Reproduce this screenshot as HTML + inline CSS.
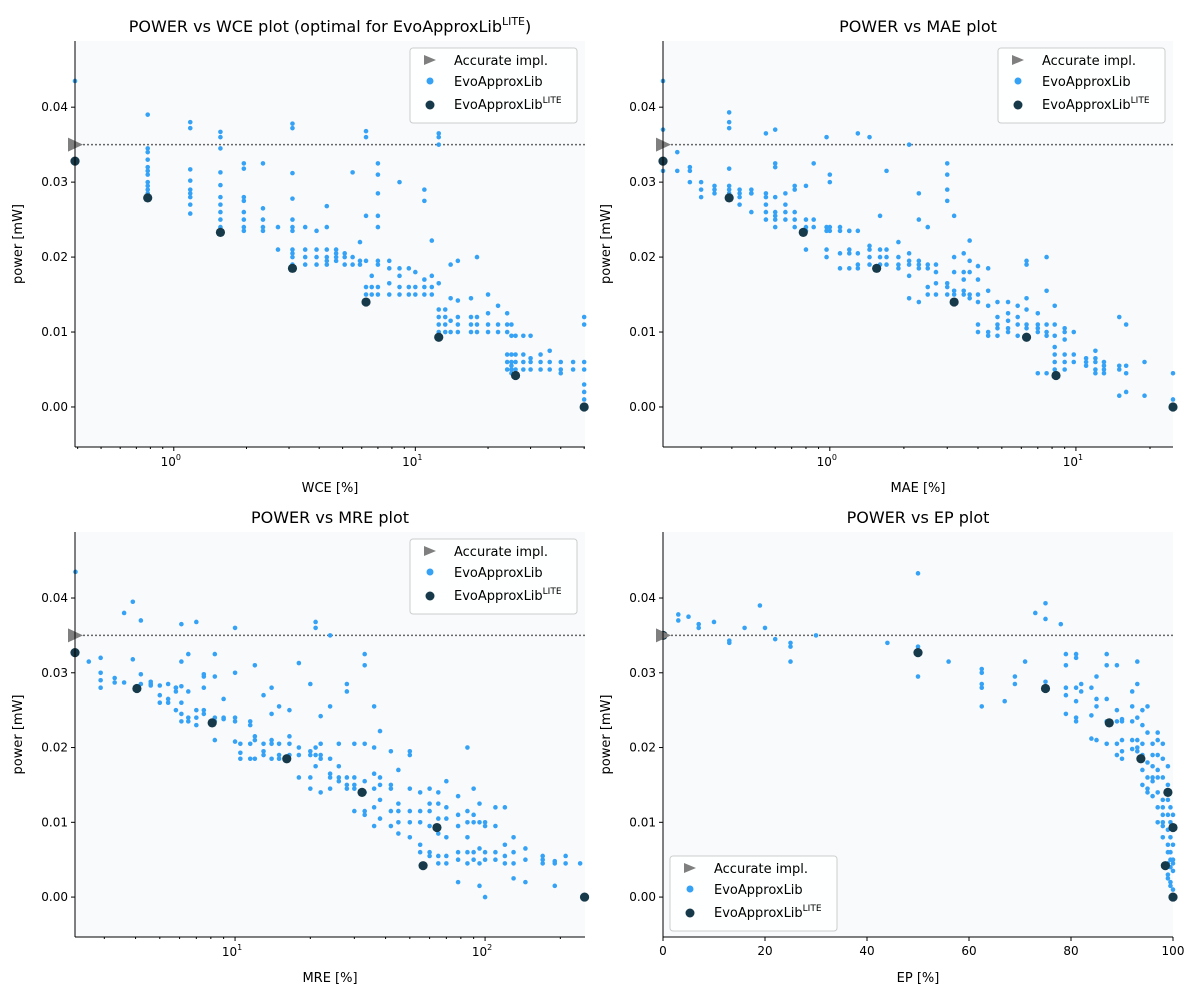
<!DOCTYPE html>
<html><head><meta charset="utf-8"><style>
body{margin:0;background:#fff;}
svg{display:block;font-family:"DejaVu Sans","Liberation Sans",sans-serif;}
</style></head><body>
<svg id="chart" width="1200" height="1000" viewBox="0 0 1200 1000" xmlns="http://www.w3.org/2000/svg"></svg>
<script>
// ---------- DATA ----------
const accuratePower = 0.035;
const yTicks = [0.00, 0.01, 0.02, 0.03, 0.04];
const yTickLabels = ["0.00", "0.01", "0.02", "0.03", "0.04"];
const epTicks = [0, 20, 40, 60, 80, 100];

const wceLite = [[0.39,0.0328],[0.78,0.0279],[1.56,0.0233],[3.1,0.0185],[6.25,0.014],[12.5,0.0093],[26,0.0042],[50,0.0]];
const maeLite = [[0.21,0.0328],[0.39,0.0279],[0.78,0.0233],[1.55,0.0185],[3.2,0.014],[6.3,0.0093],[8.3,0.0042],[24.8,0.0]];
const mreLite = [[2.29,0.0327],[4.05,0.0279],[8.1,0.0233],[16.1,0.0185],[32.2,0.014],[56.5,0.0042],[64.2,0.0093],[250,0.0]];
const epLite = [[0,0.035],[50,0.0327],[75,0.0279],[87.5,0.0233],[93.7,0.0185],[99,0.014],[100,0.0093],[98.5,0.0042],[100,0.0]];

const wceCols = [
[0.39,[.0435,.035,.0328]],
[0.78,[.039,.0345,.034,.033,.032,.0315,.031,.030,.0295,.029,.0285,.028]],
[1.17,[.038,.0372,.0317,.0302,.029,.0285,.028,.027,.0258]],
[1.56,[.0367,.036,.0345,.0313,.0296,.028,.027,.026,.025,.024,.0233]],
[1.95,[.0325,.0318,.028,.0275,.026,.025,.024,.0235]],
[2.34,[.0325,.0265,.025,.024,.0235]],
[2.7,[.024,.021]],
[3.1,[.0378,.0372,.0312,.0278,.025,.024,.0235,.021,.0205,.020,.019,.0185]],
[3.5,[.024,.021,.020,.019]],
[3.9,[.0235,.021,.020,.019]],
[4.3,[.0268,.024,.021,.020,.0195,.019]],
[4.7,[.021,.0205,.020,.0195]],
[5.1,[.0205,.020,.019]],
[5.5,[.0313,.020,.019]],
[5.9,[.022,.0195,.019]],
[6.25,[.0368,.036,.0255,.0195,.016,.015,.014]],
[6.6,[.0175,.016,.015]],
[7.0,[.0325,.031,.0285,.0255,.024,.0195,.019,.016,.015]],
[7.8,[.0195,.0185,.0165,.015]],
[8.6,[.030,.0185,.0175,.016,.015]],
[9.4,[.0185,.016,.015]],
[10,[.018,.016,.015]],
[10.9,[.029,.0275,.017,.016,.015]],
[11.7,[.0222,.0175,.016,.015]],
[12.5,[.0365,.036,.035,.0165,.013,.012,.011,.010,.0093]],
[13.3,[.013,.012,.011,.010]],
[14,[.019,.0145,.0115,.010]],
[15,[.0195,.0142,.012,.011,.010]],
[17,[.0145,.012,.011,.010]],
[18,[.020,.012,.011,.010]],
[20,[.015,.0125,.011,.010]],
[22,[.0135,.011,.010]],
[24,[.0125,.011,.010,.007,.006,.005]],
[25,[.011,.0095,.007,.006,.0055,.005,.0045]],
[26,[.0095,.007,.006,.005,.0042]],
[28,[.0095,.007,.006,.005]],
[30,[.0095,.0065,.006,.005]],
[33,[.007,.006,.005]],
[36,[.0075,.006,.005]],
[40,[.006,.005,.0045]],
[45,[.006,.005]],
[50,[.012,.011,.006,.005,.003,.002,.001]]
];
const maeCols = [
[0.21,[.0435,.037,.0315,.033]],[0.24,[.034,.0315]],[0.27,[.032,.0315,.030]],[0.3,[.030,.029,.028]],
[0.34,[.0295,.029,.0285]],[0.39,[.0393,.038,.0372,.0318,.0295,.029,.0285]],[0.43,[.029,.0285,.028,.027]],
[0.48,[.029,.0285,.0285,.026]],[0.55,[.0365,.0285,.028,.027,.026,.025]],[0.6,[.037,.0325,.032,.028,.026,.0255,.025,.024]],
[0.66,[.0285,.027,.026,.025]],[0.72,[.0295,.029,.026,.025,.024]],[0.8,[.0295,.025,.024,.0235,.021]],
[0.86,[.0325,.025,.024]],[0.97,[.036,.024,.0235,.021,.020]],[1.0,[.031,.030,.024,.0235]],
[1.1,[.024,.0235,.0205,.0185]],[1.2,[.0235,.0235,.021,.0205,.0185]],[1.3,[.0365,.0235,.0205,.019,.0185]],
[1.45,[.036,.0215,.021,.020,.019]],[1.6,[.0255,.021,.020,.019]],[1.7,[.0315,.021,.020,.019]],
[1.9,[.022,.020,.019,.0185]],[2.1,[.035,.0205,.0195,.019,.0175,.0145]],[2.3,[.0285,.025,.0195,.019,.0185,.014]],
[2.5,[.024,.019,.0185,.016,.015]],[2.7,[.019,.018,.0165,.015]],[3.0,[.0325,.031,.029,.0275,.0165,.016,.015]],
[3.2,[.0255,.020,.018,.0155,.015]],[3.5,[.0205,.018,.017,.0155,.015]],[3.7,[.0222,.0195,.018,.015,.0145]],
[4.0,[.0188,.017,.015,.014,.011,.010]],[4.4,[.0185,.0155,.0135,.010,.0095]],[4.8,[.014,.012,.011,.0105,.0095]],
[5.3,[.014,.0125,.0115,.0105,.010]],[5.8,[.0135,.012,.011,.0095]],[6.3,[.0195,.019,.0145,.013,.011,.0105,.0095]],
[7.0,[.0125,.011,.0105,.010,.0045]],[7.6,[.020,.0155,.011,.010,.0095,.0045]],[8.2,[.0135,.011,.0095,.008,.007,.006,.005]],
[9.0,[.0105,.010,.009,.007,.006,.005]],[9.8,[.010,.007,.006]],[11,[.0065,.006,.0055]],
[12,[.0075,.0065,.006,.005,.0045]],[13,[.006,.0055,.005,.0045]],[15,[.012,.0055,.005,.0015]],
[16,[.011,.0055,.0045,.002]],[19,[.006,.0015]],[24.8,[.0045,.001,.0]]
];
const mreCols = [
[2.3,[.0435,.0327]],[2.6,[.0315]],[2.9,[.032,.030,.029,.028]],[3.3,[.0293,.0287]],[3.6,[.038,.0287]],
[3.9,[.0395,.0318]],[4.2,[.037,.0298,.0285]],[4.6,[.0288,.0285,.0283]],[5.0,[.0283,.027,.026]],
[5.4,[.0285,.0265,.026]],[5.8,[.028,.028,.0275,.025]],[6.1,[.0365,.0315,.0282,.026,.0245,.0235]],
[6.5,[.0325,.0275,.024,.0235]],[7.0,[.0368,.025,.024,.023]],[7.5,[.0298,.0295,.028,.025,.0245]],
[8.3,[.0325,.0295,.024,.0235,.021]],[9.0,[.0265,.024,.0238]],[10.0,[.036,.030,.024,.0235,.0208]],
[10.5,[.0205,.0185,.0193]],[11.5,[.0235,.023,.0205,.0185]],[12,[.031,.0215,.021,.0185]],
[13,[.027,.0205,.0195,.019]],[14,[.028,.0245,.021,.0205,.0185]],[15,[.0255,.0205,.019,.0185]],
[16.5,[.025,.0215,.0205,.019]],[18,[.0313,.020,.019,.016]],[20,[.0285,.0195,.019,.016,.0145]],
[21,[.0368,.036,.020,.019,.0175]],[22,[.0242,.0205,.019,.0185,.014]],[24,[.035,.0255,.0185,.0165,.016,.0145]],
[26,[.0205,.0175,.016,.0155]],[28,[.0285,.0275,.016,.015,.0145]],[30,[.0205,.016,.015,.0145,.0115]],
[33,[.0325,.031,.0205,.0155,.014,.0115,.011]],[36,[.0255,.020,.0165,.0145,.012,.0095]],
[38,[.0222,.016,.015,.013,.0105]],[42,[.0195,.015,.0145,.0115,.0095]],[45,[.017,.0125,.0115,.010,.0085]],
[50,[.0195,.019,.0145,.0115,.010,.008]],[55,[.014,.0115,.010,.007,.006]],[60,[.0145,.0125,.0115,.0095,.006,.0055]],
[65,[.014,.0125,.0105,.0085,.0055,.0045]],[70,[.0155,.012,.0105,.008,.0055,.0045]],[78,[.0135,.011,.0095,.006,.005,.002]],
[85,[.020,.0115,.010,.008,.006,.0045]],[90,[.0145,.011,.010,.006,.005]],[95,[.0125,.010,.0065,.0045,.0015]],
[100,[.010,.0095,.006,.005,.000]],[110,[.012,.0095,.006,.005]],[120,[.012,.007,.0055,.0045]],
[130,[.008,.006,.0045,.0025]],[145,[.0065,.005,.002]],[170,[.0055,.0045,.005]],[190,[.0048,.0045,.0015]],
[210,[.0045,.0055]],[240,[.0045]]
];
const epCols = [
[3,[.0378,.037]],[5,[.0375]],[7,[.0365,.036]],[10,[.0368]],[13,[.0343,.034]],[16,[.036]],[19,[.039]],
[20,[.036]],[22,[.0345]],[25,[.034,.0335,.0315]],[30,[.035]],[44,[.034]],[50,[.0433,.0335,.033,.0295]],
[56,[.0315]],[62.5,[.0305,.03,.0285,.028,.0255]],[67,[.0262]],[69,[.0295,.0285]],[71,[.0315]],[73,[.038]],
[75,[.0393,.0372,.0288,.0282]],[78,[.0365]],[79,[.0325,.031,.028,.027,.0245]],[81,[.0325,.032,.028,.0262,.024,.0235]],
[82,[.0285,.0275]],[84,[.028,.0243,.0212]],[85,[.0295,.0265,.0255,.021]],[87,[.0325,.031,.0265,.0235,.0205]],
[89,[.031,.025,.0235,.0205,.019]],[90,[.0238,.0235,.021,.0195,.0185]],[92,[.0275,.0255,.0235,.021,.0198]],
[93,[.0315,.0285,.024,.021,.020,.0195]],[94,[.025,.023,.0205,.019,.017,.015]],[95,[.0255,.022,.018,.016,.0145,.014]],
[96,[.0205,.019,.0175,.016,.0155,.0135]],[97,[.022,.021,.019,.017,.016,.014,.012,.010]],
[98,[.0205,.0185,.016,.013,.012,.011,.010,.0095,.008]],[99,[.0175,.015,.013,.011,.009,.007,.006,.0045,.003,.0025]],
[99.5,[.012,.010,.008,.006,.005,.004,.002,.0015]],[100,[.011,.009,.007,.005,.0045,.0035,.001]]
];

// ---------- DRAWING ----------
const NS = "http://www.w3.org/2000/svg";
const svg = document.getElementById("chart");
function mk(tag, attrs, parent){
  const e = document.createElementNS(NS, tag);
  for (const k in attrs) e.setAttribute(k, attrs[k]);
  (parent || svg).appendChild(e);
  return e;
}
const YMIN = -0.00534, YMAX = 0.04883;
const BLUE = "#36a2f5", DARK = "#173a4b", GRAY = "#7f7f7f";

function panel(o){
  const g = mk("g", {});
  
  
  const {x0,x1,y0,y1} = o;
  const lmin = Math.log10(o.xmin), lmax = Math.log10(o.xmax);
  const sx = v => o.log ? x0 + (Math.log10(Math.max(v,1e-9)) - lmin)/(lmax-lmin)*(x1-x0)
                        : x0 + (v - o.xmin)/(o.xmax-o.xmin)*(x1-x0);
  const sy = v => y0 + (YMAX - v)/(YMAX - YMIN)*(y1-y0);
  const bg = mk("rect", {x:x0,y:y0,width:x1-x0,height:y1-y0,fill:"#f8fafc"}, g);
  
  
  // title
  const t = mk("text", {x:(x0+x1)/2, y:y0-9, "text-anchor":"middle", "font-size":"16", fill:"#000"}, g);
  
  
  t.textContent = o.title;
  if (o.titleSup){
    const s = mk("tspan", {"font-size":"11", dy:"-7"}, t); s.textContent = "LITE";
    const s2 = mk("tspan", {dy:"7"}, t); s2.textContent = ")";
  }
  // accurate line
  const al = mk("line", {x1:x0, x2:x1, y1:sy(accuratePower), y2:sy(accuratePower), stroke:"#666", "stroke-width":1.5, "stroke-dasharray":"2,2"}, g);
  
  
  // blue points
  o.cols.forEach(c => c[1].forEach(v => {
    const p = mk("circle", {cx:sx(c[0]), cy:sy(v), r:2.3, fill:BLUE}, g);
    
    
  }));
  // lite points
  o.lite.forEach(d => {
    const p = mk("circle", {cx:sx(d[0]), cy:sy(d[1]), r:4.6, fill:DARK}, g);
    
    
  });
  // accurate triangle
  const ty = sy(accuratePower);
  const tri = mk("polygon", {points:`${x0-7},${ty-7} ${x0-7},${ty+7} ${x0+8},${ty}`, fill:GRAY}, g);
  
  
  // spines
  mk("line", {x1:x0,x2:x0,y1:y0,y2:y1,stroke:"#000","stroke-width":1}, g);
  mk("line", {x1:x0,x2:x1,y1:y1,y2:y1,stroke:"#000","stroke-width":1}, g);
  // y ticks
  yTicks.forEach((v,i) => {
    const y = sy(v);
    mk("line", {x1:x0-4,x2:x0,y1:y,y2:y,stroke:"#000"}, g);
    const tl = mk("text", {x:x0-7, y:y+4, "text-anchor":"end", "font-size":"12"}, g);
    
    
    tl.textContent = yTickLabels[i];
  });
  const yl = mk("text", {x:0,y:0,"text-anchor":"middle","font-size":"13",transform:`translate(${x0-53},${(y0+y1)/2}) rotate(-90)`}, g);
  
  
  yl.textContent = "power [mW]";
  // x ticks
  if (o.log){
    for (let d = Math.floor(lmin); d <= Math.ceil(lmax); d++){
      for (let m = 1; m < 10; m++){
        const v = m*Math.pow(10,d);
        if (v < o.xmin || v > o.xmax) continue;
        const x = sx(v);
        mk("line", {x1:x,x2:x,y1:y1,y2:y1+(m===1?4:2),stroke:"#000"}, g);
        if (m===1){
          const tl = mk("text", {x:x-3,y:y1+19,"text-anchor":"middle","font-size":"12"}, g);
          
          
          tl.textContent = "10";
          const sp = mk("tspan", {"font-size":"8",dy:"-6"}, tl); sp.textContent = String(d);
        }
      }
    }
  } else {
    epTicks.forEach(v => {
      const x = sx(v);
      mk("line", {x1:x,x2:x,y1:y1,y2:y1+4,stroke:"#000"}, g);
      const tl = mk("text", {x:x,y:y1+18,"text-anchor":"middle","font-size":"12"}, g);
      
      
      tl.textContent = String(v);
    });
  }
  const xl = mk("text", {x:(x0+x1)/2,y:y1+45,"text-anchor":"middle","font-size":"13"}, g);
  
  
  xl.textContent = o.xlabel;
  // legend
  const lx = o.lx, ly = o.ly;
  const lg = mk("g", {}, g);
  
  
  mk("rect", {x:lx,y:ly,width:167,height:75,rx:3,fill:"#fff","fill-opacity":0.85,stroke:"#ccc"}, lg);
  mk("polygon", {points:`${lx+14},${ly+7} ${lx+14},${ly+17} ${lx+26},${ly+12}`, fill:GRAY}, lg);
  mk("circle", {cx:lx+20,cy:ly+33,r:3.5,fill:BLUE}, lg);
  mk("circle", {cx:lx+20,cy:ly+57,r:4.5,fill:DARK}, lg);
  const e1 = mk("text", {x:lx+44,y:ly+17,"font-size":"13"}, lg); e1.textContent = "Accurate impl.";
  
  
  const e2 = mk("text", {x:lx+44,y:ly+38,"font-size":"13"}, lg); e2.textContent = "EvoApproxLib";
  
  
  const e3 = mk("text", {x:lx+44,y:ly+61,"font-size":"13"}, lg); e3.textContent = "EvoApproxLib";
  
  
  const s3 = mk("tspan", {"font-size":"9",dy:"-6"}, e3); s3.textContent = "LITE";
}

panel({name:"wce-panel",x0:75,x1:585,y0:41,y1:447,xmin:0.39,xmax:50.4,log:true,cols:wceCols,lite:wceLite,
  title:"POWER vs WCE plot (optimal for EvoApproxLib",titleSup:true,xlabel:"WCE [%]",lx:410,ly:48});
panel({name:"mae-panel",x0:663,x1:1173,y0:41,y1:447,xmin:0.21,xmax:24.8,log:true,cols:maeCols,lite:maeLite,
  title:"POWER vs MAE plot",xlabel:"MAE [%]",lx:998,ly:48});
panel({name:"mre-panel",x0:75,x1:585,y0:532,y1:937,xmin:2.29,xmax:251,log:true,cols:mreCols,lite:mreLite,
  title:"POWER vs MRE plot",xlabel:"MRE [%]",lx:410,ly:539});
panel({name:"ep-panel",x0:663,x1:1173,y0:532,y1:937,xmin:0,xmax:100,log:false,cols:epCols,lite:epLite,
  title:"POWER vs EP plot",xlabel:"EP [%]",lx:670,ly:856});
</script>
</body></html>
